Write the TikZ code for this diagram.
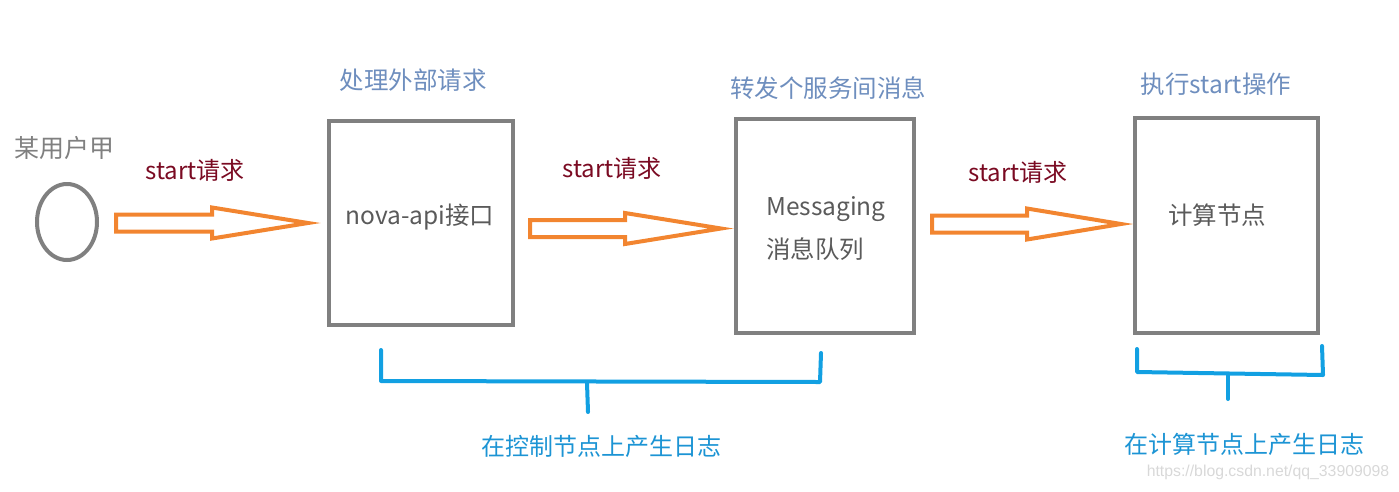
\documentclass[tikz,border=0pt]{standalone}
\usepackage{fontspec}
\setmainfont{Noto Sans CJK SC}
\usetikzlibrary{calc,shapes.geometric}
\definecolor{boxgray}{HTML}{808080}
\definecolor{arroworange}{HTML}{F28530}
\definecolor{reqred}{HTML}{7A0A22}
\definecolor{titleblue}{HTML}{6E8EBE}
\definecolor{brblue}{HTML}{12A0E2}
\definecolor{logblue}{HTML}{1C94D4}
\definecolor{innergray}{HTML}{5A5A5A}
\definecolor{wmgray}{HTML}{D8D8D8}
\newcommand\fatarrow[5]{% x1, xhead, xtip, yc, unused
  \draw[fatarr] (#1,#4-8.5) -- (#2,#4-8.5) -- (#2,#4-15.5) -- (#3,#4) -- (#2,#4+15.5) -- (#2,#4+8.5) -- (#1,#4+8.5) -- cycle;}
\tikzset{
  fatarr/.style={draw=arroworange, line width=4pt, line join=miter},
  req/.style={text=reqred, font=\fontsize{24}{28}\selectfont},
  title/.style={text=titleblue, font=\fontsize{24.5}{28}\selectfont},
  inner/.style={text=innergray, font=\fontsize{24.5}{28}\selectfont, align=left},
  bracket/.style={draw=brblue, line width=4pt, line cap=round, line join=round},
  logtxt/.style={text=logblue, font=\fontsize{24}{28}\selectfont},
}
\begin{document}
\begin{tikzpicture}[x=1pt,y=-1pt]
\useasboundingbox (0,0) rectangle (1399,491);
% user
\node[draw=boxgray, line width=4pt, ellipse, minimum width=60, minimum height=76, inner sep=0] (user) at (67,222) {};
\node[text=boxgray, font=\fontsize{25}{28}\selectfont] (userlbl) at (64,148) {某用户甲};
% boxes
\draw[draw=boxgray, line width=4pt] (329,121) rectangle (513,325);
\draw[draw=boxgray, line width=4pt] (736,119) rectangle (914,333);
\draw[draw=boxgray, line width=4pt] (1135,118) rectangle (1318,333);
% titles
\node[title] (t1) at (413,80) {处理外部请求};
\node[title] (t2) at (828,88) {转发个服务间消息};
\node[title] (t3) at (1216,84) {执行start操作};
% inner texts
\node[inner] (n1) at (420,217) {nova-api接口};
\node[inner, anchor=west, inner sep=0] (n2a) at (766,209) {Messaging};
\node[inner, anchor=west, inner sep=0] (n2b) at (766,249) {消息队列};
\node[inner] (n3) at (1217,215) {计算节点};
% arrows
\fatarrow{116}{212}{308}{223}{}
\fatarrow{530}{625}{721}{228.5}{}
\fatarrow{932}{1027}{1121}{224}{}
\node[req] (r1) at (195,170) {start请求};
\node[req] (r2) at (612,168) {start请求};
\node[req] (r3) at (1018,172) {start请求};
% brackets
\coordinate (k1l) at (381,350);
\coordinate (k1r) at (821,353);
\draw[bracket] (k1l) -- (381,381) -- (820,382) -- (k1r);
\draw[bracket] (587,383) -- (588,412);
\node[logtxt] (l1) at (601,446) {在控制节点上产生日志};
\coordinate (k2l) at (1137,349);
\coordinate (k2r) at (1322,346);
\draw[bracket] (k2l) -- (1137,372) -- (1323,375) -- (k2r);
\draw[bracket] (1228,375) -- (1228,399);
\node[logtxt] (l2) at (1244,444) {在计算节点上产生日志};
\node[text=wmgray, font=\fontspec{Liberation Sans}\fontsize{15.8}{18}\selectfont] (wm) at (1268,472) {https://blog.csdn.net/qq\_33909098};
\end{tikzpicture}
\end{document}
